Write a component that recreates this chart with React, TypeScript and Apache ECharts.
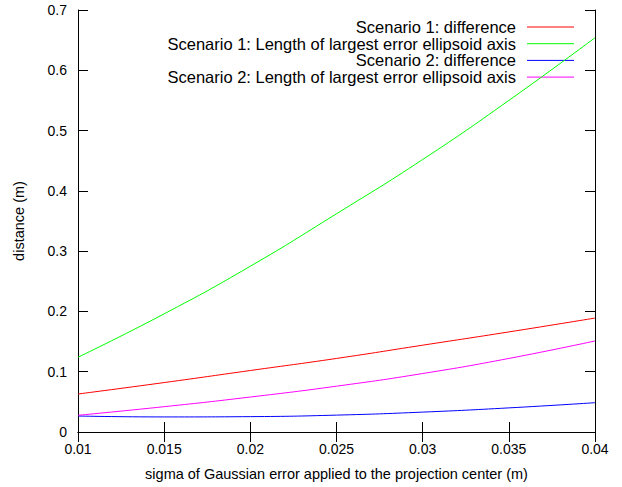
import React, { useEffect, useRef } from "react";
import * as echarts from "echarts";

const sigma = [0.01, 0.015, 0.02, 0.025, 0.03, 0.035, 0.04];
const s1Diff = [0.063, 0.082, 0.102, 0.122, 0.144, 0.166, 0.189];
const s1Axis = [0.124, 0.196, 0.275, 0.362, 0.452, 0.55, 0.654];
const s2Diff = [0.0265, 0.025, 0.0255, 0.028, 0.033, 0.04, 0.0486];
const s2Axis = [0.0277, 0.042, 0.058, 0.076, 0.097, 0.122, 0.151];

const seriesNames = [
  "Scenario 1: difference",
  "Scenario 1: Length of largest error ellipsoid axis",
  "Scenario 2: difference",
  "Scenario 2: Length of largest error ellipsoid axis",
];
const seriesColors = ["#ff0000", "#00ff00", "#0000ff", "#ff00ff"];
const seriesValues = [s1Diff, s1Axis, s2Diff, s2Axis];

const xTitle = "sigma of Gaussian error applied to the projection center (m)";
const yTitle = "distance (m)";

const FONT = "'Liberation Sans', Arial, sans-serif";

export default function App() {
  const ref = useRef<HTMLDivElement>(null);
  useEffect(() => {
    if (!ref.current) return;
    const chart = echarts.init(ref.current, null, { renderer: "svg" });
    const axisCommon = {
      axisLine: { show: true, lineStyle: { color: "#000", width: 1 } },
      axisTick: { show: true, inside: true, length: 10, lineStyle: { color: "#000" } },
      splitLine: { show: false },
    };
    const legendGraphics: any[] = [];
    seriesNames.forEach((n, i) => {
      const y = 27 + i * 16.7;
      legendGraphics.push({
        type: "text",
        x: 516,
        y: y,
        style: {
          text: n,
          fill: "#000",
          fontSize: 16.5,
          fontFamily: FONT,
          align: "right",
          verticalAlign: "middle",
        },
      });
      legendGraphics.push({
        type: "line",
        shape: { x1: 527, y1: y, x2: 574, y2: y },
        style: { stroke: seriesColors[i], lineWidth: 1 },
      });
    });
    chart.setOption({
      animation: false,
      backgroundColor: "#fff",
      textStyle: { fontFamily: FONT },
      grid: { left: 78, right: 27, top: 10, bottom: 55 },
      xAxis: [
        {
          type: "value",
          min: 0.01,
          max: 0.04,
          interval: 0.005,
          name: xTitle,
          nameLocation: "middle",
          nameGap: 34,
          nameTextStyle: { fontSize: 14.5, color: "#000", fontFamily: FONT },
          axisLabel: { fontSize: 14, color: "#000", margin: 10, fontFamily: FONT },
          ...axisCommon,
        },
        {
          type: "value",
          position: "top",
          min: 0.01,
          max: 0.04,
          interval: 0.005,
          axisLabel: { show: false },
          ...axisCommon,
        },
      ],
      yAxis: [
        {
          type: "value",
          min: 0,
          max: 0.7,
          interval: 0.1,
          name: yTitle,
          nameLocation: "middle",
          nameGap: 52,
          nameTextStyle: { fontSize: 14.5, color: "#000", fontFamily: FONT },
          axisLabel: { fontSize: 14, color: "#000", margin: 11, fontFamily: FONT },
          ...axisCommon,
        },
        {
          type: "value",
          position: "right",
          min: 0,
          max: 0.7,
          interval: 0.1,
          axisLabel: { show: false },
          ...axisCommon,
        },
      ],
      series: seriesNames.map((n, i) => ({
        name: n,
        type: "line",
        smooth: true,
        symbol: "none",
        data: sigma.map((x, j) => [x, seriesValues[i][j]]),
        lineStyle: { color: seriesColors[i], width: 1 },
        itemStyle: { color: seriesColors[i] },
      })),
      graphic: legendGraphics,
    });
    return () => chart.dispose();
  }, []);
  return (
    <div
      ref={ref}
      style={{ position: "absolute", left: 0, top: 0, width: 622, height: 487 }}
    />
  );
}
